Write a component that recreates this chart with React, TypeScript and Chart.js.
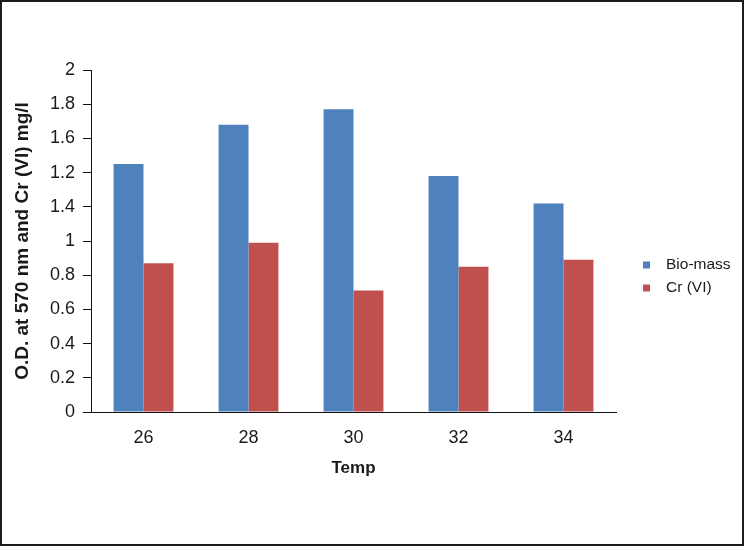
import React, { useEffect, useRef } from "react";
import { Chart, registerables } from "chart.js";

Chart.register(...registerables);

const categories = ["26", "28", "30", "32", "34"];
const bioMass = [1.45, 1.68, 1.77, 1.38, 1.22];
const crVI = [0.87, 0.99, 0.71, 0.85, 0.89];
const yTickLabels = ["0", "0.2", "0.4", "0.6", "0.8", "1", "1.4", "1.2", "1.6", "1.8", "2"];

const FONT = '"Liberation Sans", Arial, Helvetica, sans-serif';

const sideLegend = {
  id: "sideLegend",
  afterDraw(chart: any) {
    const ctx = chart.ctx;
    ctx.save();
    ctx.font = `15.5px ${FONT}`;
    ctx.textBaseline = "middle";
    ctx.textAlign = "left";
    chart.data.datasets.forEach((ds: any, i: number) => {
      const y = 265 + i * 23;
      ctx.fillStyle = ds.backgroundColor;
      ctx.fillRect(643, y - 3.5, 7, 7);
      ctx.fillStyle = "#1a1a1a";
      ctx.fillText(ds.label, 666, y);
    });
    ctx.restore();
  },
};

export default function App() {
  const ref = useRef<HTMLCanvasElement | null>(null);
  useEffect(() => {
    if (!ref.current) return;
    const chart = new Chart(ref.current, {
      type: "bar",
      data: {
        labels: categories,
        datasets: [
          { label: "Bio-mass", data: bioMass, backgroundColor: "#4F81BD", categoryPercentage: 0.57, barPercentage: 1 },
          { label: "Cr (VI)", data: crVI, backgroundColor: "#C0504D", categoryPercentage: 0.57, barPercentage: 1 },
        ],
      },
      options: {
        responsive: false,
        animation: false,
        layout: { padding: { top: 70, right: 128, bottom: 0, left: 0 } },
        plugins: { legend: { display: false }, tooltip: { enabled: false } },
        scales: {
          x: {
            grid: { display: false, drawTicks: false },
            border: { display: true, color: "#111", width: 1 },
            ticks: { color: "#1a1a1a", font: { family: FONT, size: 18 }, padding: 15 },
            title: {
              display: true,
              text: "Temp",
              color: "#1a1a1a",
              font: { family: FONT, size: 17, weight: "bold" },
              padding: { top: 0, bottom: 67 },
            },
            afterFit(scale: any) {
              scale.height = 134;
            },
          },
          y: {
            min: 0,
            max: 2,
            ticks: {
              stepSize: 0.2,
              color: "#1a1a1a",
              font: { family: FONT, size: 18 },
              padding: 8,
              callback: (_v: any, i: number) => yTickLabels[i],
            },
            grid: { display: true, drawOnChartArea: false, drawTicks: true, tickLength: 8, color: "#111" },
            border: { display: true, color: "#111", width: 1 },
            title: {
              display: true,
              text: "O.D. at 570 nm and Cr (VI) mg/l",
              color: "#1a1a1a",
              font: { family: FONT, size: 19, weight: "bold" },
              padding: { top: 11, bottom: 0 },
            },
            afterFit(scale: any) {
              scale.width = 91;
            },
          },
        },
      },
      plugins: [sideLegend],
    });
    return () => chart.destroy();
  }, []);

  return (
    <div style={{ position: "fixed", left: 0, top: 0, width: 744, height: 546, background: "#fff" }}>
      <canvas ref={ref} width={744} height={546} style={{ display: "block" }} />
      <div
        style={{
          position: "absolute",
          left: 0,
          top: 0,
          width: 744,
          height: 546,
          boxSizing: "border-box",
          border: "2px solid #1c1c1c",
          pointerEvents: "none",
        }}
      />
    </div>
  );
}
